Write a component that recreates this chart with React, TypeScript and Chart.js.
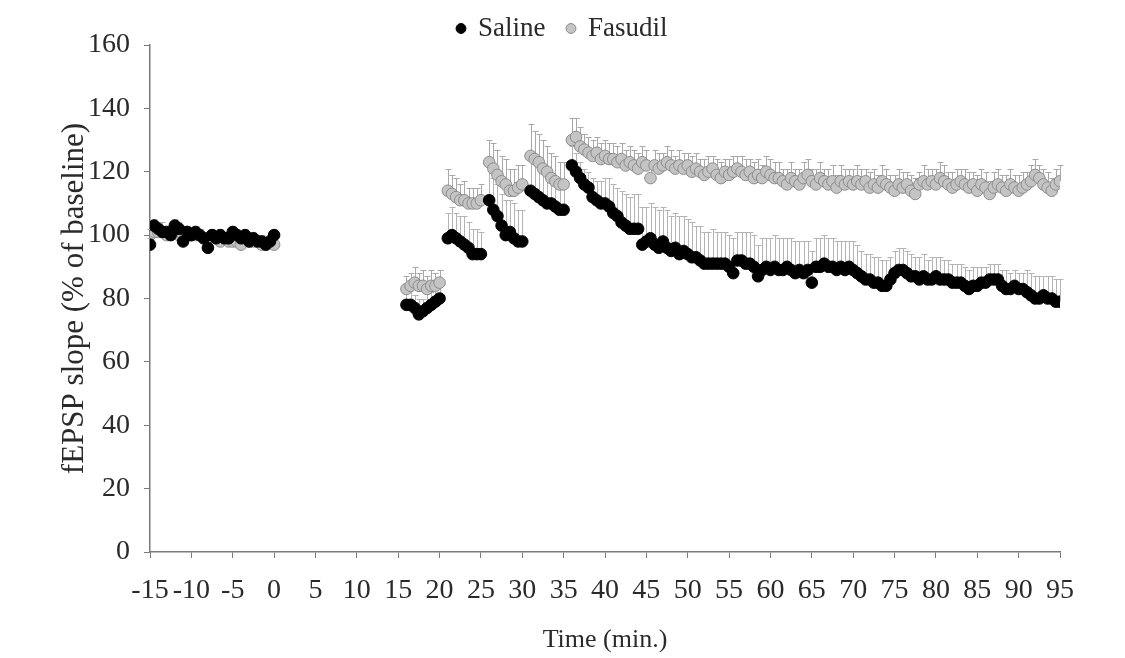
import React, { useEffect, useRef } from "react";
import { Chart, registerables } from "chart.js";

Chart.register(...registerables);

// Segment time ranges (minutes), sampled every 0.5 min
const segmentStarts = [-15, 16, 21, 26, 31, 36];
const segmentEnds = [0, 20, 25, 30, 35, 95];
const sampleStep = 0.5;

// Saline (% of baseline)
const salineBaseline = [
  97, 103, 102, 101, 101, 100, 103, 102, 98, 101,
  100, 101, 100, 99, 96, 100, 99, 100, 99, 99,
  101, 100, 99, 100, 98, 99, 98, 98, 97, 98,
  100,
];
const salineSeg1 = [78, 78, 77, 75, 76, 77, 78, 79, 80];
const salineSeg2 = [99, 100, 99, 98, 97, 96, 94, 94, 94];
const salineSeg3 = [111, 108, 106, 103, 100, 101, 99, 98, 98];
const salineSeg4 = [114, 113, 112, 111, 110, 110, 109, 108, 108];
const salineSeg5 = [
  122, 120, 118, 116, 115, 112, 111, 110, 110, 109,
  107, 106, 104, 103, 102, 102, 102, 97, 98, 99,
  97, 96, 98, 96, 95, 96, 94, 95, 94, 93,
  93, 92, 91, 91, 91, 91, 91, 91, 90, 88,
  92, 92, 91, 91, 90, 87, 89, 90, 89, 90,
  89, 89, 90, 89, 88, 89, 88, 89, 85, 90,
  90, 91, 90, 90, 89, 90, 89, 90, 89, 88,
  87, 86, 86, 85, 85, 84, 84, 86, 88, 89,
  89, 88, 87, 87, 86, 87, 86, 86, 87, 86,
  86, 86, 85, 85, 85, 84, 83, 84, 84, 85,
  85, 86, 86, 86, 84, 83, 83, 84, 83, 83,
  82, 81, 80, 80, 81, 80, 80, 79, 79,
];

// Saline SEM (upward error bars)
const salineErrBaseline = [
  2, 2, 2, 3, 2, 2, 2, 2, 3, 2,
  2, 2, 2, 2, 3, 2, 2, 2, 2, 2,
  2, 2, 2, 2, 2, 2, 2, 2, 2, 2,
  2,
];
const salineErrSeg1 = [4, 5, 4, 5, 4, 5, 4, 5, 4];
const salineErrSeg2 = [8, 9, 8, 8, 9, 8, 8, 8, 7];
const salineErrSeg3 = [11, 10, 10, 10, 11, 10, 11, 10, 10];
const salineErrSeg4 = [10, 10, 10, 10, 9, 9, 9, 8, 8];
const salineErrSeg5 = [
  6, 6, 5, 5, 5, 6, 6, 7, 8, 9,
  9, 9, 10, 10, 10, 11, 11, 12, 11, 11,
  12, 12, 11, 12, 11, 11, 12, 11, 11, 11,
  10, 11, 10, 10, 11, 10, 10, 10, 10, 11,
  9, 9, 10, 10, 10, 10, 10, 9, 10, 10,
  10, 10, 9, 10, 10, 9, 10, 9, 10, 9,
  9, 9, 9, 9, 9, 8, 9, 8, 9, 9,
  8, 8, 8, 8, 8, 8, 8, 7, 7, 7,
  7, 7, 7, 6, 7, 7, 6, 7, 6, 7,
  6, 6, 6, 6, 6, 6, 6, 6, 6, 5,
  5, 5, 5, 5, 5, 6, 5, 5, 5, 5,
  7, 7, 7, 7, 6, 7, 7, 7, 7,
];

// Fasudil (% of baseline)
const fasudilBaseline = [
  100, 101, 101, 101, 100, 101, 101, 100, 100, 101,
  100, 100, 100, 99, 99, 100, 99, 98, 99, 98,
  98, 98, 97, 99, 98, 98, 98, 97, 97, 98,
  97,
];
const fasudilSeg1 = [83, 84, 85, 84, 84, 83, 84, 84, 85];
const fasudilSeg2 = [114, 113, 112, 111, 111, 110, 110, 110, 111];
const fasudilSeg3 = [123, 121, 119, 117, 116, 114, 114, 115, 116];
const fasudilSeg4 = [125, 124, 123, 121, 120, 118, 117, 116, 116];
const fasudilSeg5 = [
  130, 131, 128, 127, 126, 125, 126, 124, 125, 124,
  124, 123, 124, 122, 123, 122, 121, 123, 122, 118,
  122, 121, 122, 123, 122, 121, 122, 121, 122, 120,
  121, 120, 119, 120, 121, 119, 118, 120, 119, 120,
  121, 120, 119, 120, 118, 119, 118, 120, 119, 118,
  118, 117, 116, 118, 117, 116, 118, 119, 117, 116,
  118, 117, 116, 117, 115, 117, 116, 117, 116, 117,
  116, 117, 115, 116, 115, 117, 116, 115, 114, 116,
  115, 116, 114, 113, 116, 117, 116, 117, 116, 118,
  117, 116, 115, 116, 117, 116, 115, 116, 114, 116,
  115, 113, 115, 116, 115, 114, 116, 115, 114, 115,
  116, 117, 119, 118, 116, 115, 114, 116, 117,
];

// Fasudil SEM (upward error bars)
const fasudilErrBaseline = [
  2, 2, 3, 2, 2, 2, 2, 2, 2, 2,
  2, 2, 2, 2, 2, 2, 2, 2, 2, 2,
  2, 2, 2, 2, 2, 2, 2, 2, 2, 2,
  2,
];
const fasudilErrSeg1 = [4, 4, 5, 4, 5, 4, 5, 4, 4];
const fasudilErrSeg2 = [7, 6, 6, 5, 6, 5, 5, 5, 5];
const fasudilErrSeg3 = [7, 8, 8, 8, 8, 7, 7, 7, 6];
const fasudilErrSeg4 = [10, 9, 9, 9, 8, 8, 8, 7, 7];
const fasudilErrSeg5 = [
  7, 6, 6, 5, 5, 5, 5, 5, 5, 5,
  5, 5, 5, 5, 5, 5, 5, 5, 5, 5,
  5, 5, 4, 5, 5, 4, 5, 5, 4, 5,
  5, 4, 5, 5, 4, 5, 5, 4, 5, 5,
  4, 5, 5, 4, 5, 5, 4, 5, 5, 5,
  5, 4, 5, 5, 4, 5, 5, 5, 4, 5,
  5, 4, 5, 5, 4, 5, 5, 4, 5, 5,
  5, 4, 5, 5, 4, 5, 5, 4, 5, 5,
  5, 4, 5, 5, 4, 5, 5, 4, 5, 5,
  5, 4, 5, 5, 4, 5, 5, 4, 5, 5,
  5, 4, 5, 5, 4, 5, 5, 4, 5, 5,
  4, 5, 5, 4, 5, 5, 4, 5, 5,
];

const xTickMin = -15;
const xTickMax = 95;
const xTickStep = 5;
const yTickMin = 0;
const yTickMax = 160;
const yTickStep = 20;

const seriesLabels = ["Saline", "Fasudil"];
const xTitle = "Time (min.)";
const yTitle = "fEPSP slope (% of baseline)";

function buildPoints(valueSegs: number[][], errSegs: number[][]) {
  const pts: { x: number; y: number; e: number }[] = [];
  valueSegs.forEach((seg, s) => {
    const start = segmentStarts[s];
    const end = segmentEnds[s];
    seg.forEach((v, i) => {
      const t = start + i * sampleStep;
      if (t <= end + 1e-9) pts.push({ x: t, y: v, e: errSegs[s][i] ?? 0 });
    });
  });
  return pts;
}

const errorBarPlugin = {
  id: "errorBars",
  beforeDatasetsDraw(chart: any) {
    const { ctx, scales } = chart;
    const xs = scales.x;
    const ys = scales.y;
    ctx.save();
    const order = [1, 0];
    order.forEach((di) => {
      const ds = chart.data.datasets[di];
      if (!ds) return;
      ctx.strokeStyle = ds.errorColor;
      ctx.lineWidth = 1;
      ds.data.forEach((p: any) => {
        const px = Math.round(xs.getPixelForValue(p.x)) + 0.5;
        const py0 = ys.getPixelForValue(p.y);
        const py1 = Math.round(ys.getPixelForValue(p.y + p.e)) + 0.5;
        ctx.beginPath();
        ctx.moveTo(px, py0);
        ctx.lineTo(px, py1);
        ctx.moveTo(px - 3, py1);
        ctx.lineTo(px + 3, py1);
        ctx.stroke();
      });
    });
    ctx.restore();
  },
};

// Fixes the legend box height so the plot area starts where the reference's does
const legendHeightPlugin = {
  id: "legendHeight",
  beforeInit(chart: any) {
    const legend = chart.legend;
    if (!legend) return;
    const origFit = legend.fit;
    legend.fit = function () {
      origFit.call(this);
      this.height = 52;
    };
  },
};

export default function App() {
  const canvasRef = useRef<HTMLCanvasElement | null>(null);

  useEffect(() => {
    document.body.style.margin = "0";
    const canvas = canvasRef.current;
    if (!canvas) return;

    const saline = buildPoints(
      [salineBaseline, salineSeg1, salineSeg2, salineSeg3, salineSeg4, salineSeg5],
      [salineErrBaseline, salineErrSeg1, salineErrSeg2, salineErrSeg3, salineErrSeg4, salineErrSeg5]
    );
    const fasudil = buildPoints(
      [fasudilBaseline, fasudilSeg1, fasudilSeg2, fasudilSeg3, fasudilSeg4, fasudilSeg5],
      [fasudilErrBaseline, fasudilErrSeg1, fasudilErrSeg2, fasudilErrSeg3, fasudilErrSeg4, fasudilErrSeg5]
    );

    const font = "'Liberation Serif', 'Times New Roman', serif";
    const textColor = "#2a2a2a";
    const axisColor = "#7a7a7a";

    const chart = new Chart(canvas, {
      type: "scatter",
      data: {
        datasets: [
          {
            label: seriesLabels[0],
            data: saline,
            showLine: false,
            pointRadius: 5.8,
            pointHoverRadius: 5.8,
            pointBackgroundColor: "#000000",
            pointBorderColor: "#000000",
            pointBorderWidth: 1,
            backgroundColor: "#000000",
            borderColor: "#000000",
            errorColor: "#b4b4b4",
          } as any,
          {
            label: seriesLabels[1],
            data: fasudil,
            showLine: false,
            pointRadius: 5.8,
            pointHoverRadius: 5.8,
            pointBackgroundColor: "#c4c4c4",
            pointBorderColor: "#8c8c8c",
            pointBorderWidth: 1,
            backgroundColor: "#c4c4c4",
            borderColor: "#8c8c8c",
            errorColor: "#a8a8a8",
          } as any,
        ],
      },
      options: {
        animation: false,
        responsive: false,
        maintainAspectRatio: false,
        layout: { padding: { left: 0, right: 0, top: -7, bottom: 0 } },
        plugins: {
          legend: {
            display: true,
            position: "top",
            labels: {
              usePointStyle: true,
              boxWidth: 7,
              boxHeight: 7,
              padding: 22,
              color: textColor,
              font: { family: font, size: 27 },
            },
          },
          tooltip: { enabled: false },
        },
        scales: {
          x: {
            type: "linear",
            min: xTickMin,
            max: xTickMax,
            afterFit: (s: any) => {
              s.height = 106;
            },
            ticks: {
              stepSize: xTickStep,
              color: textColor,
              font: { family: font, size: 28 },
              padding: 16,
              maxRotation: 0,
              autoSkip: false,
            },
            grid: {
              display: true,
              drawOnChartArea: false,
              drawTicks: true,
              tickLength: 6,
              color: axisColor,
            },
            border: { display: true, color: axisColor, width: 1.5 },
            title: {
              display: true,
              text: xTitle,
              color: textColor,
              font: { family: font, size: 26 },
              padding: { top: 0, bottom: 2 },
            },
          },
          y: {
            type: "linear",
            min: yTickMin,
            max: yTickMax,
            afterFit: (s: any) => {
              s.width = 150;
            },
            ticks: {
              stepSize: yTickStep,
              color: textColor,
              font: { family: font, size: 28 },
              padding: 14,
            },
            grid: {
              display: true,
              drawOnChartArea: false,
              drawTicks: true,
              tickLength: 6,
              color: axisColor,
            },
            border: { display: true, color: axisColor, width: 1.5 },
            title: {
              display: true,
              text: yTitle,
              color: textColor,
              font: { family: font, size: 31 },
              padding: { top: 56, bottom: 0 },
            },
          },
          yRightSpacer: {
            type: "linear",
            position: "right",
            min: 0,
            max: 1,
            display: true,
            afterFit: (s: any) => {
              s.width = 65;
            },
            ticks: { display: false },
            grid: { display: false, drawTicks: false },
            border: { display: false },
          },
        },
      },
      plugins: [errorBarPlugin, legendHeightPlugin],
    });

    return () => {
      chart.destroy();
    };
  }, []);

  return (
    <div style={{ width: 1125, height: 658, background: "#ffffff" }}>
      <canvas ref={canvasRef} width={1125} height={658} style={{ display: "block" }} />
    </div>
  );
}
